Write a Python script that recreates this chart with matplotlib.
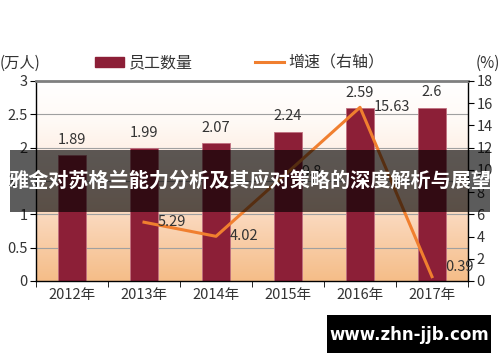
import matplotlib
matplotlib.use("Agg")
import matplotlib.pyplot as plt
import numpy as np
from matplotlib.patches import Rectangle, Patch
from matplotlib.lines import Line2D
from matplotlib.colors import LinearSegmentedColormap

plt.rcParams['font.family'] = ['Noto Sans CJK SC', 'DejaVu Sans']

years = ['2012年', '2013年', '2014年', '2015年', '2016年', '2017年']
staff = [1.89, 1.99, 2.07, 2.24, 2.59, 2.6]
staff_labels = ['1.89', '1.99', '2.07', '2.24', '2.59', '2.6']
growth_years = ['2013年', '2014年', '2015年', '2016年', '2017年']
growth = [5.29, 4.02, 9.8, 15.63, 0.39]
growth_labels = ['5.29', '4.02', '9.8', '15.63', '0.39']
left_ticks = [0, 0.5, 1, 1.5, 2, 2.5, 3]
left_tick_labels = ['0', '0.5', '1', '1.5', '2', '2.5', '3']
right_ticks = [0, 2, 4, 6, 8, 10, 12, 14, 16, 18]

bar_color = '#8c1f37'
line_color = '#f07f2f'
txt = '#333333'

fig = plt.figure(figsize=(5, 3.62), dpi=100)
ax = fig.add_axes([0.072, 0.2238, 0.864, 0.5525])
x = np.arange(len(years))
ax.set_xlim(-0.5, len(years) - 0.5)
ax.set_ylim(0, 3)

# gradient background
grad = np.linspace(0, 1, 256).reshape(-1, 1)
cmap = LinearSegmentedColormap.from_list('g', [(0, '#f5bd88'), (0.45, '#fde3d2'), (0.8, '#fffaf6'), (1, '#ffffff')])
ax.imshow(grad, extent=[-0.5, len(years) - 0.5, 0, 3], origin='lower', aspect='auto', cmap=cmap, zorder=0)

for t in left_ticks[1:-1]:
    ax.axhline(t, color='#a0a0a0', lw=0.8, zorder=1)

ax.bar(x, staff, width=0.4, color=bar_color, edgecolor='#c07080', linewidth=0.6, zorder=2)
for xi, v, s in zip(x, staff, staff_labels):
    ax.text(xi, v + 0.23, s, ha='center', va='center', fontsize=10.5, color=txt, zorder=5)

ax.set_yticks(left_ticks)
ax.set_yticklabels(left_tick_labels, fontsize=10.5, color=txt)
ax.set_xticks(x)
ax.set_xticklabels(years, fontsize=10.5, color=txt)
ax.set_xticks(np.arange(-0.5, len(years) + 0.5, 1), minor=True)
ax.tick_params(axis='x', which='major', length=0, pad=5)
ax.tick_params(axis='x', which='minor', length=4, direction='out', color='black')
ax.tick_params(axis='y', length=4, direction='out', pad=2)
ax.spines['top'].set_color('#7f7f7f')
ax.spines['top'].set_linewidth(2)
for s in ['left', 'right', 'bottom']:
    ax.spines[s].set_color('black')
    ax.spines[s].set_linewidth(1)

ax2 = ax.twinx()
ax2.set_ylim(0, 18)
ax2.set_yticks(right_ticks)
ax2.set_yticklabels([str(t) for t in right_ticks], fontsize=10.5, color=txt)
ax2.tick_params(axis='y', length=4, direction='out', pad=2)
for s in ax2.spines.values():
    s.set_visible(False)
gx = [years.index(y) for y in growth_years]
ax2.plot(gx, growth, color=line_color, lw=2.2, zorder=4)
for i, (xi, v, s) in enumerate(zip(gx, growth, growth_labels)):
    dy = 0.9 if v < 1 else 0.0
    ax2.text(xi + 0.19, v + dy, s, ha='left', va='center', fontsize=10.5, color=txt, zorder=5)

# axis unit labels
fig.text(0.0, 0.826, '(万人)', fontsize=11, color=txt, ha='left', va='center')
fig.text(1.0, 0.826, '(%)', fontsize=11, color=txt, ha='right', va='center')

# legend
handles = [Patch(facecolor=bar_color, edgecolor=bar_color), Line2D([0], [0], color=line_color, lw=2.2)]
fig.legend(handles, ['员工数量', '增速（右轴）'], loc='center', bbox_to_anchor=(0.48, 0.826), ncol=2,
           frameon=False, fontsize=11.5, handlelength=1.8, handleheight=0.6, columnspacing=3.9,
           labelcolor=txt, handletextpad=0.3)

# banner
fig.patches.append(Rectangle((0.02, 1 - 212 / 362), 0.96, 62 / 362, transform=fig.transFigure,
                             facecolor='black', alpha=0.64, zorder=10))
fig.text(0.5, 1 - 181 / 362, '雅金对苏格兰能力分析及其应对策略的深度解析与展望', fontsize=14.5,
         fontweight='bold', color='white', ha='center', va='center', zorder=11)

# watermark
fig.patches.append(Rectangle((327 / 500, 1 - 353 / 362), 164 / 500, 38 / 362, transform=fig.transFigure,
                             facecolor='black', zorder=10))
fig.text(409 / 500, 1 - 335 / 362, 'www.zhn-jjb.com', fontsize=12, fontweight='bold',
         color='white', ha='center', va='center', family='DejaVu Sans', zorder=11)

fig.savefig('out.png', dpi=100)
